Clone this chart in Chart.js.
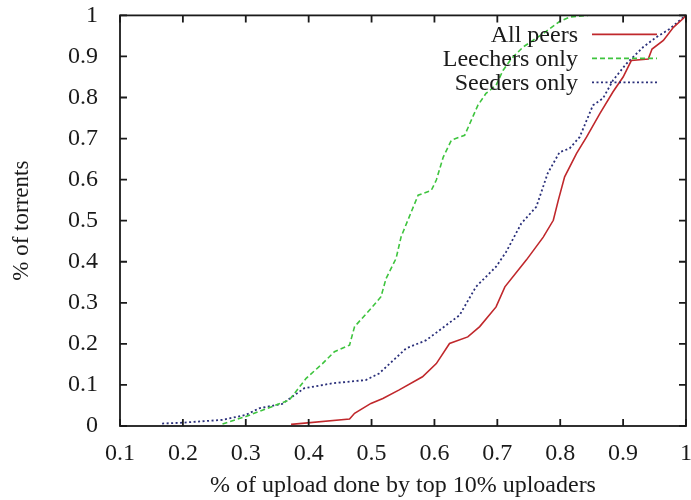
<!DOCTYPE html>
<html>
<head>
<meta charset="utf-8">
<script src="https://cdn.jsdelivr.net/npm/chart.js@4"></script>
<style>
  html, body { margin: 0; padding: 0; background: #fff; overflow: hidden; }
  /* a little taller and wider than the window so the frame sits where gnuplot put it */
  #wrap { width: 697px; height: 513px; margin-top: -13px; }
</style>
</head>
<body>
<div id="wrap"><canvas id="cdf"></canvas></div>
<script>
// CDF curves: x = share of upload by top 10% uploaders, y = fraction of torrents
const allPeersX = [0.372, 0.465, 0.473, 0.499, 0.518, 0.544, 0.581, 0.603, 0.624, 0.653, 0.672, 0.698, 0.712, 0.746, 0.773, 0.789, 0.797, 0.807, 0.826, 0.842, 0.863, 0.884, 0.900, 0.913, 0.940, 0.946, 0.964, 0.980, 0.996, 1.0];
const allPeersY = [0.004, 0.017, 0.031, 0.055, 0.067, 0.088, 0.120, 0.152, 0.201, 0.217, 0.242, 0.290, 0.339, 0.404, 0.460, 0.501, 0.550, 0.607, 0.664, 0.704, 0.761, 0.814, 0.850, 0.890, 0.894, 0.918, 0.939, 0.971, 0.993, 1.0];

const leechersX = [0.263, 0.300, 0.348, 0.369, 0.396, 0.422, 0.441, 0.465, 0.473, 0.499, 0.515, 0.523, 0.539, 0.547, 0.574, 0.595, 0.603, 0.614, 0.627, 0.648, 0.661, 0.669, 0.682, 0.698, 0.709, 0.722, 0.741, 0.773, 0.799, 0.815, 0.844];
const leechersY = [0.005, 0.023, 0.051, 0.063, 0.116, 0.152, 0.181, 0.197, 0.242, 0.286, 0.315, 0.359, 0.408, 0.461, 0.562, 0.574, 0.599, 0.655, 0.696, 0.708, 0.753, 0.781, 0.810, 0.830, 0.866, 0.894, 0.923, 0.956, 0.985, 0.996, 1.0];

const seedersX = [0.167, 0.199, 0.263, 0.300, 0.321, 0.358, 0.393, 0.438, 0.491, 0.512, 0.555, 0.587, 0.640, 0.666, 0.698, 0.714, 0.738, 0.762, 0.780, 0.799, 0.815, 0.831, 0.852, 0.868, 0.884, 0.905, 0.932, 0.953, 0.974, 0.990, 0.998];
const seedersY = [0.006, 0.008, 0.015, 0.027, 0.043, 0.054, 0.092, 0.104, 0.112, 0.128, 0.189, 0.209, 0.270, 0.339, 0.388, 0.424, 0.493, 0.534, 0.615, 0.667, 0.676, 0.704, 0.781, 0.798, 0.842, 0.882, 0.923, 0.947, 0.967, 0.988, 0.998];

const seriesNames = ["All peers", "Leechers only", "Seeders only"];
const xTitle = "% of upload done by top 10% uploaders";
const yTitle = "% of torrents";

const toPoints = (xs, ys) => xs.map((x, i) => ({ x: x, y: ys[i] }));
// gnuplot prints 1 and 0, not 1.0 / 0.0
const tickText = (v) => String(Number(v.toFixed(1)));

const serif = "'Liberation Serif', 'DejaVu Serif', serif";
const ink = "#1a1a1a";

// gnuplot style: ticks pointing inwards on all four sides, plus a closed frame
const frameTicks = {
    id: "frameTicks",
    afterDraw(chart) {
        const { ctx, chartArea: a, scales } = chart;
        const len = 7;
        ctx.save();
        ctx.strokeStyle = ink;
        ctx.lineWidth = 1.8;
        ctx.strokeRect(a.left, a.top, a.right - a.left, a.bottom - a.top);
        ctx.beginPath();
        scales.x.ticks.forEach((t) => {
            const px = scales.x.getPixelForValue(t.value);
            ctx.moveTo(px, a.bottom); ctx.lineTo(px, a.bottom - len);
            ctx.moveTo(px, a.top); ctx.lineTo(px, a.top + len);
        });
        scales.y.ticks.forEach((t) => {
            const py = scales.y.getPixelForValue(t.value);
            ctx.moveTo(a.left, py); ctx.lineTo(a.left + len, py);
            ctx.moveTo(a.right, py); ctx.lineTo(a.right - len, py);
        });
        ctx.stroke();
        ctx.restore();
    }
};

// key in the top right corner: label right-aligned, sample line to its right
const gnuplotKey = {
    id: "gnuplotKey",
    afterDraw(chart) {
        const { ctx, chartArea: a } = chart;
        const textRight = a.right - 108;
        const sampleLeft = a.right - 94;
        const sampleRight = a.right - 29;
        ctx.save();
        ctx.font = "24px " + serif;
        ctx.textAlign = "right";
        ctx.textBaseline = "middle";
        chart.data.datasets.forEach((ds, i) => {
            const y = a.top + 19 + i * 24;
            ctx.fillStyle = ink;
            ctx.fillText(ds.label, textRight, y + 1);
            ctx.strokeStyle = ds.borderColor;
            ctx.lineWidth = ds.borderWidth;
            ctx.setLineDash(ds.borderDash || []);
            ctx.beginPath();
            ctx.moveTo(sampleLeft, y);
            ctx.lineTo(sampleRight, y);
            ctx.stroke();
        });
        ctx.restore();
    }
};

new Chart(document.getElementById("cdf"), {
    type: "line",
    data: {
        datasets: [
            {
                label: seriesNames[0],
                data: toPoints(allPeersX, allPeersY),
                borderColor: "#c0282c",
                borderWidth: 1.6,
                pointRadius: 0,
                tension: 0
            },
            {
                label: seriesNames[1],
                data: toPoints(leechersX, leechersY),
                borderColor: "#3ec43e",
                borderWidth: 1.6,
                borderDash: [5, 3],
                pointRadius: 0,
                tension: 0
            },
            {
                label: seriesNames[2],
                data: toPoints(seedersX, seedersY),
                borderColor: "#2a2f7a",
                borderWidth: 1.8,
                borderDash: [2, 2.5],
                pointRadius: 0,
                tension: 0
            }
        ]
    },
    options: {
        responsive: true,
        maintainAspectRatio: false,
        animation: false,
        layout: { padding: 0 },
        plugins: {
            legend: { display: false },
            tooltip: { enabled: false }
        },
        scales: {
            x: {
                type: "linear",
                min: 0.1,
                max: 1,
                grid: { display: false },
                border: { display: false },
                ticks: {
                    stepSize: 0.1,
                    color: ink,
                    padding: 5,
                    maxRotation: 0,
                    callback: tickText,
                    font: { family: serif, size: 24 }
                },
                title: {
                    display: true,
                    text: xTitle,
                    color: ink,
                    padding: { top: 6, bottom: 0 },
                    font: { family: serif, size: 24 }
                },
                afterFit: (scale) => { scale.height = 74; }
            },
            y: {
                min: 0,
                max: 1,
                grid: { display: false },
                border: { display: false },
                ticks: {
                    stepSize: 0.1,
                    color: ink,
                    padding: 14,
                    callback: tickText,
                    font: { family: serif, size: 24 }
                },
                title: {
                    display: true,
                    text: yTitle,
                    color: ink,
                    padding: { top: 8, bottom: 10 },
                    font: { family: serif, size: 23 }
                },
                afterFit: (scale) => { scale.width = 120; }
            }
        }
    },
    plugins: [frameTicks, gnuplotKey]
});
</script>
</body>
</html>
